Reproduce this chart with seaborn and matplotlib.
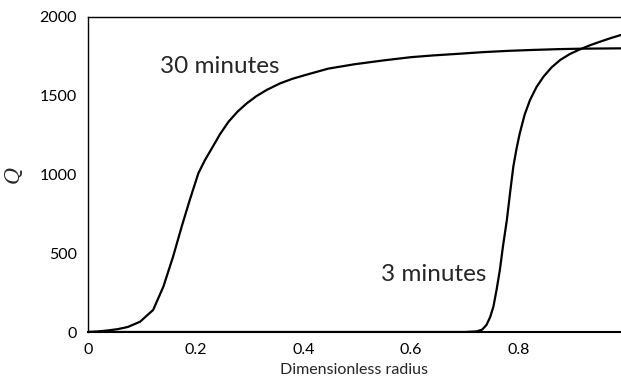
import matplotlib
matplotlib.use("Agg")
import matplotlib.pyplot as plt
import seaborn as sns
import pandas as pd

# 30 minutes curve
x30 = [0.0, 0.020, 0.037, 0.055, 0.074, 0.0966, 0.121, 0.140, 0.158, 0.174, 0.189,
       0.205, 0.217, 0.230, 0.245, 0.261, 0.278, 0.295, 0.313, 0.332, 0.357, 0.380,
       0.402, 0.446, 0.495, 0.548, 0.600, 0.641, 0.691, 0.734, 0.780, 0.827, 0.875,
       0.920, 0.955, 0.990]
q30 = [0, 4, 10, 18, 32, 65, 140, 288, 478, 669, 838,
       1008, 1090, 1166, 1255, 1335, 1400, 1452, 1498, 1537, 1579, 1608,
       1630, 1672, 1700, 1724, 1745, 1756, 1767, 1777, 1785, 1791, 1796,
       1799, 1800, 1801]

# 3 minutes curve
x3 = [0.0, 0.700, 0.722, 0.732, 0.740, 0.747, 0.753, 0.759, 0.765, 0.771, 0.778,
      0.784, 0.790, 0.796, 0.802, 0.811, 0.821, 0.833, 0.846, 0.861, 0.877, 0.895,
      0.914, 0.932, 0.951, 0.970, 0.990]
q3 = [0, 0, 4, 15, 44, 95, 161, 270, 394, 550, 711,
      885, 1050, 1165, 1262, 1380, 1473, 1555, 1621, 1680, 1727, 1765,
      1795, 1820, 1843, 1865, 1886]

xticks = [0, 0.2, 0.4, 0.6, 0.8]
xtick_labels = ["0", "0.2", "0.4", "0.6", "0.8"]
yticks = [0, 500, 1000, 1500, 2000]
ytick_labels = ["0", "500", "1000", "1500", "2000"]

df = pd.concat([
    pd.DataFrame({"r": x30, "Q": q30, "series": "30 minutes"}),
    pd.DataFrame({"r": x3, "Q": q3, "series": "3 minutes"}),
])

sns.set_style("white")
plt.rcParams['font.family'] = ['Lato', 'DejaVu Sans']

fig = plt.figure(figsize=(6.21, 3.88), dpi=100)
ax = fig.add_axes([88/621, 1-332/388, 1-88/621, (332-17)/388])

sns.lineplot(data=df, x="r", y="Q", units="series", estimator=None,
             color="black", linewidth=1.6, ax=ax, sort=False)

ax.set_xlim(0, 0.99)
ax.set_ylim(0, 2000)
ax.set_xticks(xticks)
ax.set_xticklabels(xtick_labels)
ax.set_yticks(yticks)
ax.set_yticklabels(ytick_labels)
ax.tick_params(direction='inout', length=8, width=1, colors='black',
               labelsize=11.5, pad=4)
for s in ['left', 'bottom', 'top']:
    ax.spines[s].set_color('black')
    ax.spines[s].set_linewidth(1)
ax.spines['bottom'].set_linewidth(1.5)
ax.spines['right'].set_visible(False)

ax.set_xlabel("Dimensionless radius", fontsize=11.5, labelpad=4)
ax.set_ylabel("Q", fontsize=15, family=['DejaVu Serif'], style='italic', labelpad=12)

ax.text(0.244, 1683, "30 minutes", fontsize=17.5, ha='center', va='center')
ax.text(0.643, 368, "3 minutes", fontsize=17.5, ha='center', va='center')

fig.savefig("out.png", dpi=100)
